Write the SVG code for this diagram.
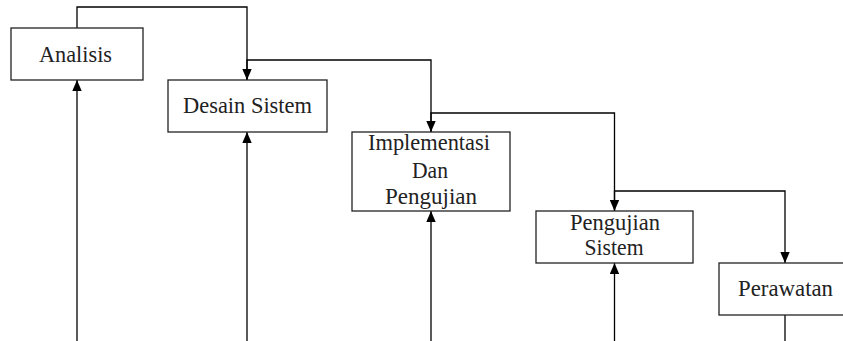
<svg xmlns="http://www.w3.org/2000/svg" width="843" height="341" viewBox="0 0 843 341">
<style>
.box{fill:#fff;stroke:#222;stroke-width:1.3}
.lbl{font-family:"Liberation Serif","Times New Roman",serif;font-size:22.5px;fill:#222;text-anchor:middle}
.con{fill:none;stroke:#000;stroke-width:1.3}
</style>
<defs>
<marker id="ah" markerUnits="userSpaceOnUse" markerWidth="11" markerHeight="10" refX="11" refY="5" orient="auto">
<path d="M0,0.3 L11,5 L0,9.7 Z" fill="#000"/>
</marker>
</defs>
<rect width="843" height="341" fill="#fff"/>
<g id="connectors">
<path class="con" d="M77,28 V7 H247 V80" marker-end="url(#ah)"/>
<path class="con" d="M247,80 V60 H431 V132" marker-end="url(#ah)"/>
<path class="con" d="M431,132 V113 H614.5 V211" marker-end="url(#ah)"/>
<path class="con" d="M614.5,211 V191 H785 V263" marker-end="url(#ah)"/>
<path class="con" d="M77,341 V80" marker-end="url(#ah)"/>
<path class="con" d="M247,341 V132" marker-end="url(#ah)"/>
<path class="con" d="M431,341 V211" marker-end="url(#ah)"/>
<path class="con" d="M614.5,341 V263" marker-end="url(#ah)"/>
<path class="con" d="M785,315 V341"/>
</g>
<g id="analisis">
<rect class="box" x="11" y="28" width="132" height="52"/>
<text class="lbl" x="75.5" y="62" textLength="73" lengthAdjust="spacingAndGlyphs">Analisis</text>
</g>
<g id="desain-sistem">
<rect class="box" x="168" y="80" width="159" height="52"/>
<text class="lbl" x="247.5" y="113" textLength="129" lengthAdjust="spacingAndGlyphs">Desain Sistem</text>
</g>
<g id="implementasi">
<rect class="box" x="352" y="132" width="158" height="79"/>
<text class="lbl" x="429" y="150" textLength="122" lengthAdjust="spacingAndGlyphs">Implementasi</text>
<text class="lbl" x="430" y="178" textLength="36" lengthAdjust="spacingAndGlyphs">Dan</text>
<text class="lbl" x="431" y="204" textLength="92" lengthAdjust="spacingAndGlyphs">Pengujian</text>
</g>
<g id="pengujian-sistem">
<rect class="box" x="536" y="211" width="157" height="52"/>
<text class="lbl" x="615" y="230" textLength="90" lengthAdjust="spacingAndGlyphs">Pengujian</text>
<text class="lbl" x="614" y="255" textLength="59" lengthAdjust="spacingAndGlyphs">Sistem</text>
</g>
<g id="perawatan">
<rect class="box" x="719" y="263" width="132" height="52"/>
<text class="lbl" x="785.5" y="296" textLength="95" lengthAdjust="spacingAndGlyphs">Perawatan</text>
</g>
</svg>
